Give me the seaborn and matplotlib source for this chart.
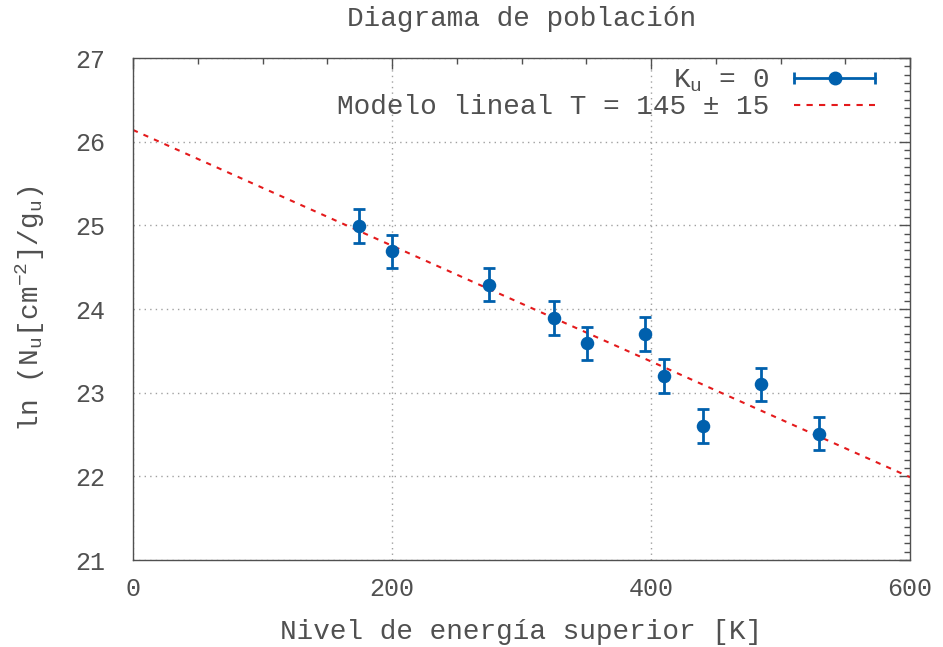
import matplotlib
matplotlib.use("Agg")
import matplotlib.pyplot as plt
import seaborn as sns
import pandas as pd
from matplotlib.lines import Line2D
from matplotlib.legend_handler import HandlerBase
from matplotlib.ticker import MultipleLocator

# Data
energy = [174.5, 200, 275, 325, 350.5, 395.5, 410, 440, 485, 530]
ln_n = [24.99, 24.69, 24.29, 23.89, 23.59, 23.70, 23.20, 22.60, 23.10, 22.51]
err = [0.2] * 10
model_x = [0, 600]
model_y = [26.14, 21.99]

title = "Diagrama de población"
xlabel = "Nivel de energía superior [K]"
ylabel = r"ln (N$_\mathregular{u}$[cm$^\mathregular{-2}$]/g$_\mathregular{u}$)"
lab_pts = r"K$_\mathregular{u}$ = 0"
lab_model = "Modelo lineal T = 145 ± 15"

sns.set_style("white")
plt.rcParams["font.family"] = ["Liberation Mono", "DejaVu Sans Mono"]
plt.rcParams["mathtext.default"] = "regular"
txt_color = "#505050"
fs = 20
fs_tick = 18

blue = "#0060ad"
red = "#e41a1c"

fig = plt.figure(figsize=(9.43, 6.47), dpi=100)
ax = fig.add_axes([133/943, 1-560/647, (910-133)/943, (560-58)/647])

df = pd.DataFrame({"x": energy, "y": ln_n, "e": err})
dm = pd.DataFrame({"x": model_x, "y": model_y})

ax.errorbar(df["x"], df["y"], yerr=df["e"], fmt="none", ecolor=blue,
            elinewidth=2, capsize=4, capthick=2, zorder=3)
sns.scatterplot(data=df, x="x", y="y", ax=ax, color=blue, s=95,
                edgecolor=blue, linewidth=0, zorder=4, legend=False)
sns.lineplot(data=dm, x="x", y="y", ax=ax, color=red, lw=1.5,
             linestyle=(0, (2.5, 3)), zorder=2, legend=False)

ax.set_xlim(0, 600)
ax.set_ylim(21, 27)
ax.xaxis.set_major_locator(MultipleLocator(200))
ax.xaxis.set_minor_locator(MultipleLocator(50))
ax.yaxis.set_major_locator(MultipleLocator(1))
ax.yaxis.set_minor_locator(MultipleLocator(0.1))
ax.grid(True, which="major", color="#a0a0a0", linestyle=(0, (1, 3)), lw=1)
ax.tick_params(which="both", direction="in", top=True, right=True,
               colors=txt_color, labelsize=fs_tick, labelcolor=txt_color)
ax.tick_params(axis="x", which="major", length=8, width=1, pad=12)
ax.tick_params(axis="y", which="major", length=8, width=1, pad=20)
ax.tick_params(which="minor", length=4, width=1)
for s in ax.spines.values():
    s.set_color(txt_color)
    s.set_linewidth(1)

ax.set_xlabel(xlabel, fontsize=fs, color=txt_color, labelpad=13)
ax.set_ylabel(ylabel, fontsize=fs, color=txt_color, labelpad=20)
ax.set_title(title, fontsize=fs, color=txt_color, pad=23)


class HBarHandler(HandlerBase):
    def create_artists(self, legend, orig_handle, xdescent, ydescent,
                       width, height, fontsize, trans):
        y = height / 2 - ydescent
        x0 = -xdescent
        x1 = x0 + width
        line = Line2D([x0, x1], [y, y], color=blue, lw=2, transform=trans)
        caps = Line2D([x0, x1], [y, y], ls="none", marker="|", ms=9,
                      mew=2, color=blue, transform=trans)
        dot = Line2D([(x0 + x1) / 2], [y], ls="none", marker="o", ms=9,
                     color=blue, transform=trans)
        return [line, caps, dot]


h_pts = Line2D([], [], color=blue)
h_model = Line2D([], [], color=red, lw=1.5, linestyle=(0, (3, 3)))
leg = ax.legend([h_pts, h_model], [lab_pts, lab_model], loc="upper right",
                bbox_to_anchor=((875-133)/777, 1-10/502),
                frameon=False, markerfirst=False, fontsize=fs,
                handlelength=2.9, handletextpad=0.9, labelspacing=0.0,
                borderaxespad=0, borderpad=0,
                handler_map={h_pts: HBarHandler()})
for t in leg.get_texts():
    t.set_color(txt_color)

fig.savefig("out.png", dpi=100)
